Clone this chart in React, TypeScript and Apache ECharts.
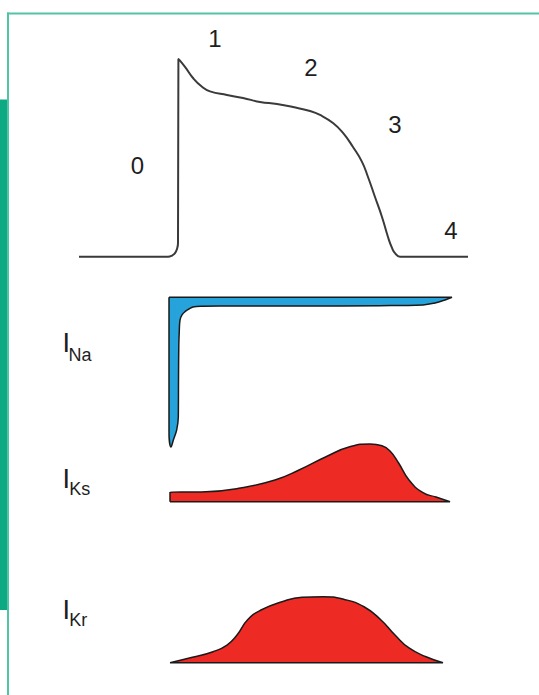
import React, { useEffect, useRef } from "react";
import * as echarts from "echarts";

// Action potential: time (ms, upstroke at 0) and membrane voltage (mV)
const tAP = [-99, -10, -6, -3, -1, 0, 0.4, 7, 15, 24, 32, 49, 65, 82, 99, 115, 132, 142, 155, 165, 175, 184, 190, 197, 204, 210, 214, 217, 222, 290];
const vAP = [-85, -85, -84.3, -82.8, -80.3, -76.7, 34.8, 30.0, 23.3, 18.0, 15.2, 13.0, 11.2, 8.8, 7.5, 5.7, 3.3, 0.9, -4.0, -10.0, -18.5, -27.5, -36.7, -48.8, -60.9, -73.1, -79.7, -82.8, -85, -85];

// I_Na (normalized, inward negative) – outline closed back along zero line
const tNa = [-9, -9, -7, -4.5, -1.3, 0.3, 0.5, 0.8, 1.2, 2, 4, 7, 11, 15, 25, 42, 122, 202, 245, 257, 267, 274, -9];
const iNa = [0, -0.9, -1.0, -0.95, -0.886, -0.8, -0.55, -0.32, -0.24, -0.152, -0.118, -0.096, -0.078, -0.065, -0.06, -0.058, -0.058, -0.056, -0.051, -0.038, -0.018, 0, 0];

// I_Ks (normalized)
const tKs = [-8, -8, 28, 62.5, 97, 121, 148, 172.5, 192, 204, 212, 220.6, 231, 245, 258, 272, -8];
const iKs = [0, 0.163, 0.173, 0.237, 0.376, 0.549, 0.78, 0.955, 1.0, 0.97, 0.88, 0.671, 0.376, 0.156, 0.081, 0, 0];

// I_Kr (normalized)
const tKr = [-8, 14.4, 35, 49, 59, 69.4, 83, 104, 124, 145, 165.6, 186, 203, 217, 231, 248, 265, -8];
const iKr = [0, 0.082, 0.167, 0.268, 0.42, 0.647, 0.798, 0.924, 0.991, 1.0, 0.961, 0.848, 0.647, 0.42, 0.223, 0.091, 0, 0];

const phaseLabels = ["0", "1", "2", "3", "4"];
const currentNames = [
  { main: "I", sub: "Na" },
  { main: "I", sub: "Ks" },
  { main: "I", sub: "Kr" },
];

const zip = (a: number[], b: number[]) => a.map((x, i) => [x, b[i]]);

const FONT = "'Liberation Sans', Arial, Helvetica, sans-serif";

export default function App() {
  const ref = useRef<HTMLDivElement>(null);
  useEffect(() => {
    if (!ref.current) return;
    const chart = echarts.init(ref.current, undefined, { renderer: "svg" });

    const T_MIN = -99;
    const T_MAX = 290;
    const gridLeft = 79;
    const gridWidth = 389;

    const grids = [
      { left: gridLeft, width: gridWidth, top: 50.45, height: 206.25 },
      { left: gridLeft, width: gridWidth, top: 297.3, height: 149.7 },
      { left: gridLeft, width: gridWidth, top: 444, height: 57.7 },
      { left: gridLeft, width: gridWidth, top: 596.7, height: 66 },
    ];
    const yRanges = [
      [-85, 40],
      [-1, 0],
      [0, 1],
      [0, 1],
    ];

    const xAxes = grids.map((_, i) => ({
      type: "value",
      gridIndex: i,
      min: T_MIN,
      max: T_MAX,
      show: false,
    }));
    const yAxes = grids.map((_, i) => ({
      type: "value",
      gridIndex: i,
      min: yRanges[i][0],
      max: yRanges[i][1],
      show: false,
    }));

    const outline = "#1a1a1a";

    const phasePos = [
      [137.5, 165.5],
      [215, 38.5],
      [311, 67],
      [395, 124],
      [451, 230],
    ];
    const labelPos = [
      { i: [62.4, 342.5], s: [68.6, 354.5] },
      { i: [62.4, 478.5], s: [69.2, 488.5] },
      { i: [62.4, 609.5], s: [69.2, 619.5] },
    ];

    const graphic: any[] = [
      { type: "rect", shape: { x: 0, y: 99.5, width: 7.5, height: 510.5 }, style: { fill: "#0DA983" }, silent: true },
      { type: "rect", shape: { x: 7, y: 12.5, width: 532, height: 2 }, style: { fill: "#52C4A6" }, silent: true },
      { type: "rect", shape: { x: 7, y: 12.5, width: 2, height: 683 }, style: { fill: "#52C4A6" }, silent: true },
    ];
    phaseLabels.forEach((t, k) => {
      graphic.push({
        type: "text",
        x: phasePos[k][0],
        y: phasePos[k][1],
        silent: true,
        style: {
          text: t,
          fontSize: 24,
          fontFamily: FONT,
          fill: "#1e1e1e",
          align: "center",
          verticalAlign: "middle",
          textAlign: "center",
          textVerticalAlign: "middle",
        },
      });
    });
    currentNames.forEach((c, k) => {
      graphic.push({
        type: "text",
        x: labelPos[k].i[0],
        y: labelPos[k].i[1],
        silent: true,
        style: {
          text: c.main,
          fontSize: 27,
          fontFamily: FONT,
          fill: "#1e1e1e",
          align: "left",
          verticalAlign: "middle",
          textAlign: "left",
          textVerticalAlign: "middle",
        },
      });
      graphic.push({
        type: "text",
        x: labelPos[k].s[0],
        y: labelPos[k].s[1],
        silent: true,
        style: {
          text: c.sub,
          fontSize: 18,
          fontFamily: FONT,
          fill: "#1e1e1e",
          align: "left",
          verticalAlign: "middle",
          textAlign: "left",
          textVerticalAlign: "middle",
        },
      });
    });

    chart.setOption({
      animation: false,
      backgroundColor: "#ffffff",
      grid: grids,
      xAxis: xAxes,
      yAxis: yAxes,
      graphic,
      series: [
        {
          type: "line",
          xAxisIndex: 0,
          yAxisIndex: 0,
          data: zip(tAP, vAP),
          showSymbol: false,
          symbol: "none",
          smooth: 0.5,
          clip: false,
          silent: true,
          lineStyle: { color: "#3a3a3a", width: 2 },
        },
        {
          type: "line",
          xAxisIndex: 1,
          yAxisIndex: 1,
          data: zip(tNa, iNa),
          symbol: "none",
          smooth: 0.4,
          clip: false,
          silent: true,
          lineStyle: { color: outline, width: 1.5 },
          areaStyle: { color: "#27A3DC", opacity: 1 },
        },
        {
          type: "line",
          xAxisIndex: 2,
          yAxisIndex: 2,
          data: zip(tKs, iKs),
          symbol: "none",
          smooth: 0.5,
          clip: false,
          silent: true,
          lineStyle: { color: outline, width: 1.5 },
          areaStyle: { color: "#EE2A24", opacity: 1 },
        },
        {
          type: "line",
          xAxisIndex: 3,
          yAxisIndex: 3,
          data: zip(tKr, iKr),
          symbol: "none",
          smooth: 0.5,
          clip: false,
          silent: true,
          lineStyle: { color: outline, width: 1.5 },
          areaStyle: { color: "#EE2A24", opacity: 1 },
        },
      ],
    });
    return () => chart.dispose();
  }, []);

  return (
    <div
      ref={ref}
      style={{ position: "fixed", left: 0, top: 0, width: 539, height: 695, background: "#fff" }}
    />
  );
}
